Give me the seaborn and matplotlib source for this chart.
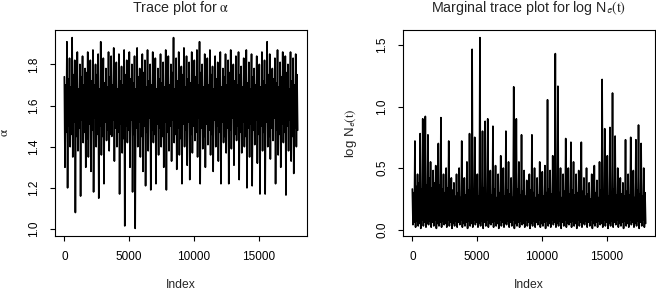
import numpy as np
import matplotlib
matplotlib.use("Agg")
import matplotlib.pyplot as plt
import seaborn as sns

# ---- data (values estimated from the reference trace plots) ----
alpha_trace = [
    1.74, 1.30, 1.70, 1.47, 1.91, 1.20, 1.73, 1.50,
    1.83, 1.40, 1.69, 1.46, 1.93, 1.35, 1.75, 1.52,
    1.82, 1.08, 1.71, 1.45, 1.86, 1.38, 1.68, 1.49,
    1.80, 1.16, 1.74, 1.53, 1.84, 1.42, 1.70, 1.47,
    1.78, 1.30, 1.76, 1.44, 1.86, 1.35, 1.69, 1.51,
    1.82, 1.28, 1.72, 1.48, 1.87, 1.18, 1.70, 1.54,
    1.80, 1.40, 1.75, 1.46, 1.85, 1.15, 1.68, 1.50,
    1.91, 1.36, 1.73, 1.45, 1.83, 1.22, 1.71, 1.52,
    1.78, 1.43, 1.69, 1.48, 1.86, 1.38, 1.74, 1.46,
    1.84, 1.45, 1.70, 1.53, 1.88, 1.33, 1.76, 1.49,
    1.81, 1.40, 1.68, 1.47, 1.85, 1.17, 1.72, 1.51,
    1.79, 1.37, 1.70, 1.44, 1.87, 1.015, 1.75, 1.50,
    1.82, 1.42, 1.69, 1.48, 1.86, 1.30, 1.73, 1.53,
    1.80, 1.18, 1.71, 1.46, 1.84, 1.003, 1.68, 1.49,
    1.88, 1.40, 1.74, 1.52, 1.78, 1.35, 1.70, 1.45,
    1.85, 1.28, 1.76, 1.50, 1.82, 1.21, 1.69, 1.47,
    1.87, 1.38, 1.72, 1.54, 1.80, 1.19, 1.70, 1.48,
    1.86, 1.42, 1.75, 1.46, 1.83, 1.22, 1.68, 1.51,
    1.78, 1.36, 1.73, 1.49, 1.85, 1.40, 1.71, 1.45,
    1.81, 1.30, 1.69, 1.52, 1.87, 1.19, 1.74, 1.47,
    1.84, 1.38, 1.70, 1.50, 1.80, 1.33, 1.76, 1.53,
    1.93, 1.42, 1.68, 1.46, 1.83, 1.29, 1.72, 1.49,
    1.86, 1.36, 1.70, 1.44, 1.79, 1.22, 1.75, 1.51,
    1.88, 1.40, 1.69, 1.48, 1.84, 1.31, 1.73, 1.52,
    1.81, 1.24, 1.71, 1.46, 1.86, 1.37, 1.68, 1.50,
    1.82, 1.43, 1.74, 1.47, 1.87, 1.35, 1.70, 1.54,
    1.91, 1.22, 1.76, 1.49, 1.80, 1.39, 1.69, 1.45,
    1.85, 1.30, 1.72, 1.51, 1.83, 1.41, 1.70, 1.48,
    1.87, 1.36, 1.75, 1.46, 1.79, 1.28, 1.68, 1.53,
    1.84, 1.40, 1.73, 1.50, 1.81, 1.33, 1.71, 1.47,
    1.86, 1.22, 1.69, 1.52, 1.78, 1.42, 1.74, 1.45,
    1.85, 1.37, 1.70, 1.49, 1.82, 1.22, 1.76, 1.48,
    1.87, 1.39, 1.68, 1.54, 1.80, 1.31, 1.72, 1.46,
    1.84, 1.43, 1.70, 1.50, 1.86, 1.24, 1.75, 1.47,
    1.79, 1.37, 1.69, 1.52, 1.83, 1.40, 1.73, 1.45,
    1.87, 1.20, 1.71, 1.49, 1.81, 1.35, 1.68, 1.51,
    1.85, 1.21, 1.74, 1.48, 1.78, 1.41, 1.70, 1.53,
    1.84, 1.32, 1.76, 1.46, 1.80, 1.17, 1.69, 1.50,
    1.86, 1.38, 1.72, 1.47, 1.82, 1.17, 1.70, 1.52,
    1.91, 1.40, 1.75, 1.45, 1.85, 1.34, 1.68, 1.49,
    1.78, 1.43, 1.73, 1.54, 1.83, 1.22, 1.71, 1.48,
    1.87, 1.36, 1.69, 1.46, 1.81, 1.30, 1.74, 1.51,
    1.86, 1.42, 1.70, 1.47, 1.84, 1.165, 1.76, 1.50,
    1.80, 1.38, 1.68, 1.53, 1.86, 1.33, 1.72, 1.45,
    1.83, 1.27, 1.70, 1.49, 1.85, 1.40, 1.75, 1.48,
]

logne_trace = [
    0.33, 0.04, 0.30, 0.06, 0.72, 0.02, 0.35, 0.07,
    0.45, 0.03, 0.38, 0.05, 0.78, 0.01, 0.33, 0.08,
    0.90, 0.03, 0.40, 0.06, 0.92, 0.02, 0.36, 0.05,
    0.77, 0.04, 0.42, 0.07, 0.55, 0.02, 0.34, 0.06,
    0.48, 0.03, 0.38, 0.08, 0.52, 0.01, 0.31, 0.05,
    0.70, 0.03, 0.36, 0.06, 0.91, 0.02, 0.33, 0.07,
    0.45, 0.04, 0.30, 0.05, 0.50, 0.02, 0.34, 0.08,
    0.72, 0.03, 0.29, 0.06, 0.42, 0.01, 0.32, 0.05,
    0.38, 0.03, 0.27, 0.07, 0.45, 0.02, 0.30, 0.06,
    0.50, 0.04, 0.26, 0.08, 0.72, 0.02, 0.31, 0.05,
    0.42, 0.03, 0.28, 0.06, 0.55, 0.01, 0.32, 0.07,
    0.78, 0.03, 0.29, 0.05, 1.465, 0.02, 0.33, 0.08,
    0.75, 0.04, 0.30, 0.06, 0.45, 0.02, 0.27, 0.05,
    1.56, 0.03, 0.31, 0.07, 0.80, 0.01, 0.34, 0.06,
    0.88, 0.03, 0.29, 0.08, 0.90, 0.02, 0.32, 0.05,
    0.48, 0.04, 0.28, 0.06, 0.84, 0.02, 0.33, 0.07,
    0.52, 0.03, 0.26, 0.05, 0.45, 0.01, 0.30, 0.08,
    0.60, 0.03, 0.31, 0.06, 0.50, 0.02, 0.27, 0.05,
    0.80, 0.04, 0.32, 0.07, 0.55, 0.02, 0.29, 0.06,
    0.42, 0.03, 0.26, 0.08, 1.16, 0.01, 0.30, 0.05,
    0.90, 0.03, 0.33, 0.06, 0.55, 0.02, 0.28, 0.07,
    0.77, 0.04, 0.31, 0.05, 0.48, 0.02, 0.27, 0.08,
    0.40, 0.03, 0.29, 0.06, 0.45, 0.01, 0.32, 0.05,
    0.77, 0.03, 0.30, 0.07, 0.50, 0.02, 0.26, 0.06,
    0.42, 0.04, 0.28, 0.08, 0.55, 0.02, 0.31, 0.05,
    0.47, 0.03, 0.27, 0.06, 0.52, 0.01, 0.30, 0.07,
    1.055, 0.03, 0.33, 0.05, 0.48, 0.02, 0.29, 0.08,
    0.60, 0.04, 0.32, 0.06, 1.43, 0.02, 0.28, 0.05,
    1.165, 0.03, 0.30, 0.07, 0.50, 0.01, 0.26, 0.06,
    0.45, 0.03, 0.31, 0.08, 0.74, 0.02, 0.27, 0.05,
    0.50, 0.04, 0.29, 0.06, 0.71, 0.02, 0.32, 0.07,
    0.55, 0.03, 0.28, 0.05, 0.45, 0.01, 0.30, 0.08,
    0.48, 0.03, 0.26, 0.06, 0.71, 0.02, 0.31, 0.05,
    0.42, 0.04, 0.27, 0.07, 0.50, 0.02, 0.29, 0.06,
    0.38, 0.03, 0.25, 0.08, 0.45, 0.01, 0.28, 0.05,
    0.52, 0.03, 0.30, 0.06, 0.40, 0.02, 0.26, 0.07,
    0.55, 0.04, 0.32, 0.05, 1.22, 0.02, 0.29, 0.08,
    0.82, 0.03, 0.31, 0.06, 0.60, 0.01, 0.27, 0.05,
    0.83, 0.03, 0.30, 0.07, 1.11, 0.02, 0.33, 0.06,
    0.76, 0.04, 0.28, 0.08, 0.50, 0.02, 0.26, 0.05,
    0.42, 0.03, 0.29, 0.06, 0.38, 0.01, 0.27, 0.07,
    0.73, 0.03, 0.31, 0.05, 0.45, 0.02, 0.28, 0.08,
    0.75, 0.04, 0.30, 0.06, 0.48, 0.02, 0.26, 0.05,
    0.73, 0.03, 0.32, 0.07, 0.85, 0.01, 0.29, 0.06,
    0.70, 0.03, 0.27, 0.08, 0.50, 0.02, 0.30, 0.05,
]

n_iter = 18000
x_ticks = [0, 5000, 10000, 15000]
alpha_yticks = [1.0, 1.2, 1.4, 1.6, 1.8]
logne_yticks = [0.0, 0.5, 1.0, 1.5]

titles = [r"Trace plot for $\mathrm{\alpha}$",
          r"Marginal trace plot for log N$_\mathsf{e}$$\mathrm{(t)}$"]
ylabels = [r"$\mathrm{\alpha}$", r"log N$_\mathsf{e}$$\mathrm{(t)}$"]

# ---- style ----
sns.set_style("ticks")
plt.rcParams["font.family"] = ["Liberation Sans", "DejaVu Sans"]
plt.rcParams["mathtext.fontset"] = "stix"
plt.rcParams["mathtext.sf"] = "Liberation Sans"

fig = plt.figure(figsize=(6.56, 2.95), dpi=100)
W, H = 656, 295

def axes_at(x0, x1, ytop, ybot):
    return fig.add_axes([x0 / W, 1 - ybot / H, (x1 - x0) / W, (ybot - ytop) / H])

ax1 = axes_at(55, 307, 30, 236)
ax2 = axes_at(403, 655, 30, 236)

series = [alpha_trace, logne_trace]
yticks = [alpha_yticks, logne_yticks]

for ax, vals, yt, title, ylab in zip([ax1, ax2], series, yticks, titles, ylabels):
    idx = np.linspace(1, n_iter, len(vals))
    sns.lineplot(x=idx, y=vals, ax=ax, color="black", linewidth=1.2, sort=False)
    ax.margins(x=0.04, y=0.04)
    ax.set_xticks(x_ticks)
    ax.set_yticks(yt)
    for s in ax.spines.values():
        s.set_visible(True)
        s.set_color("black")
        s.set_linewidth(0.8)
    ax.tick_params(axis="both", direction="out", length=3.6, width=0.8,
                   colors="black", labelsize=8.5, pad=7)
    ax.tick_params(axis="y", labelrotation=90)
    for lab in ax.get_yticklabels():
        lab.set_va("center")
    ax.set_xlabel("Index", fontsize=8.7)
    ax.xaxis.set_label_coords(0.5, -0.21)
    ax.set_ylabel(ylab, fontsize=9.5)
    ax.yaxis.set_label_coords(-0.175, 0.5)
    ax.text(0.5, 1.105, title, transform=ax.transAxes, ha="center",
            va="center", fontsize=10.3)

fig.savefig("out.png", dpi=100)
